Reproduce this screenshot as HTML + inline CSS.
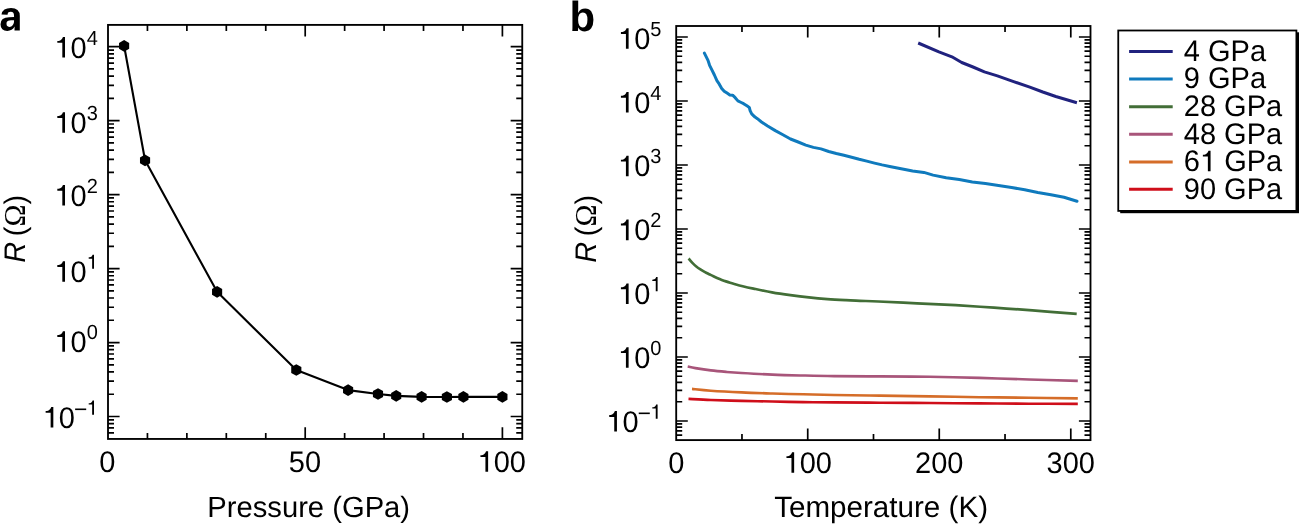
<!DOCTYPE html>
<html><head><meta charset="utf-8"><style>
html,body{margin:0;padding:0;background:#fff;width:1299px;height:524px;overflow:hidden}
svg{display:block}
.o,.m{fill:none}
text{font-family:"Liberation Sans",sans-serif;fill:#000;text-rendering:geometricPrecision}
svg{will-change:transform}
</style></head><body>
<svg width="1299" height="524" viewBox="0 0 1299 524">
<rect width="1299" height="524" fill="#fff"/>
<path d="M305.20 438.95V427.34999999999997M305.20 24.9V36.5M502.40 438.95V427.34999999999997M502.40 24.9V36.5M147.44 438.95V432.95M147.44 24.9V30.9M186.88 438.95V432.95M186.88 24.9V30.9M226.32 438.95V432.95M226.32 24.9V30.9M265.76 438.95V432.95M265.76 24.9V30.9M344.64 438.95V432.95M344.64 24.9V30.9M384.08 438.95V432.95M384.08 24.9V30.9M423.52 438.95V432.95M423.52 24.9V30.9M462.96 438.95V432.95M462.96 24.9V30.9M108.0 432.91H114.0M522.25 432.91H516.25M108.0 427.96H114.0M522.25 427.96H516.25M108.0 423.67H114.0M522.25 423.67H516.25M108.0 419.88H114.0M522.25 419.88H516.25M108.0 416.50H119.6M522.25 416.50H510.65M108.0 394.23H114.0M522.25 394.23H516.25M108.0 381.21H114.0M522.25 381.21H516.25M108.0 371.97H114.0M522.25 371.97H516.25M108.0 364.80H114.0M522.25 364.80H516.25M108.0 358.94H114.0M522.25 358.94H516.25M108.0 353.99H114.0M522.25 353.99H516.25M108.0 349.70H114.0M522.25 349.70H516.25M108.0 345.91H114.0M522.25 345.91H516.25M108.0 342.53H119.6M522.25 342.53H510.65M108.0 320.26H114.0M522.25 320.26H516.25M108.0 307.24H114.0M522.25 307.24H516.25M108.0 298.00H114.0M522.25 298.00H516.25M108.0 290.83H114.0M522.25 290.83H516.25M108.0 284.97H114.0M522.25 284.97H516.25M108.0 280.02H114.0M522.25 280.02H516.25M108.0 275.73H114.0M522.25 275.73H516.25M108.0 271.94H114.0M522.25 271.94H516.25M108.0 268.56H119.6M522.25 268.56H510.65M108.0 246.29H114.0M522.25 246.29H516.25M108.0 233.27H114.0M522.25 233.27H516.25M108.0 224.03H114.0M522.25 224.03H516.25M108.0 216.86H114.0M522.25 216.86H516.25M108.0 211.00H114.0M522.25 211.00H516.25M108.0 206.05H114.0M522.25 206.05H516.25M108.0 201.76H114.0M522.25 201.76H516.25M108.0 197.97H114.0M522.25 197.97H516.25M108.0 194.59H119.6M522.25 194.59H510.65M108.0 172.32H114.0M522.25 172.32H516.25M108.0 159.30H114.0M522.25 159.30H516.25M108.0 150.06H114.0M522.25 150.06H516.25M108.0 142.89H114.0M522.25 142.89H516.25M108.0 137.03H114.0M522.25 137.03H516.25M108.0 132.08H114.0M522.25 132.08H516.25M108.0 127.79H114.0M522.25 127.79H516.25M108.0 124.00H114.0M522.25 124.00H516.25M108.0 120.62H119.6M522.25 120.62H510.65M108.0 98.35H114.0M522.25 98.35H516.25M108.0 85.33H114.0M522.25 85.33H516.25M108.0 76.09H114.0M522.25 76.09H516.25M108.0 68.92H114.0M522.25 68.92H516.25M108.0 63.06H114.0M522.25 63.06H516.25M108.0 58.11H114.0M522.25 58.11H516.25M108.0 53.82H114.0M522.25 53.82H516.25M108.0 50.03H114.0M522.25 50.03H516.25M108.0 46.65H119.6M522.25 46.65H510.65" stroke="#000" stroke-width="1.7" fill="none"/>
<rect x="108.0" y="24.9" width="414.25" height="414.05" fill="none" stroke="#000" stroke-width="1.85"/>
<path d="M807.73 440.1V428.5M807.73 26.0V37.6M939.26 440.1V428.5M939.26 26.0V37.6M1070.79 440.1V428.5M1070.79 26.0V37.6M741.97 440.1V434.1M741.97 26.0V32.0M873.50 440.1V434.1M873.50 26.0V32.0M1005.03 440.1V434.1M1005.03 26.0V32.0M676.2 435.20H682.2M1090.5 435.20H1084.5M676.2 430.91H682.2M1090.5 430.91H1084.5M676.2 427.20H682.2M1090.5 427.20H1084.5M676.2 423.93H682.2M1090.5 423.93H1084.5M676.2 421.00H687.8000000000001M1090.5 421.00H1078.9M676.2 401.73H682.2M1090.5 401.73H1084.5M676.2 390.46H682.2M1090.5 390.46H1084.5M676.2 382.47H682.2M1090.5 382.47H1084.5M676.2 376.27H682.2M1090.5 376.27H1084.5M676.2 371.20H682.2M1090.5 371.20H1084.5M676.2 366.91H682.2M1090.5 366.91H1084.5M676.2 363.20H682.2M1090.5 363.20H1084.5M676.2 359.93H682.2M1090.5 359.93H1084.5M676.2 357.00H687.8000000000001M1090.5 357.00H1078.9M676.2 337.73H682.2M1090.5 337.73H1084.5M676.2 326.46H682.2M1090.5 326.46H1084.5M676.2 318.47H682.2M1090.5 318.47H1084.5M676.2 312.27H682.2M1090.5 312.27H1084.5M676.2 307.20H682.2M1090.5 307.20H1084.5M676.2 302.91H682.2M1090.5 302.91H1084.5M676.2 299.20H682.2M1090.5 299.20H1084.5M676.2 295.93H682.2M1090.5 295.93H1084.5M676.2 293.00H687.8000000000001M1090.5 293.00H1078.9M676.2 273.73H682.2M1090.5 273.73H1084.5M676.2 262.46H682.2M1090.5 262.46H1084.5M676.2 254.47H682.2M1090.5 254.47H1084.5M676.2 248.27H682.2M1090.5 248.27H1084.5M676.2 243.20H682.2M1090.5 243.20H1084.5M676.2 238.91H682.2M1090.5 238.91H1084.5M676.2 235.20H682.2M1090.5 235.20H1084.5M676.2 231.93H682.2M1090.5 231.93H1084.5M676.2 229.00H687.8000000000001M1090.5 229.00H1078.9M676.2 209.73H682.2M1090.5 209.73H1084.5M676.2 198.46H682.2M1090.5 198.46H1084.5M676.2 190.47H682.2M1090.5 190.47H1084.5M676.2 184.27H682.2M1090.5 184.27H1084.5M676.2 179.20H682.2M1090.5 179.20H1084.5M676.2 174.91H682.2M1090.5 174.91H1084.5M676.2 171.20H682.2M1090.5 171.20H1084.5M676.2 167.93H682.2M1090.5 167.93H1084.5M676.2 165.00H687.8000000000001M1090.5 165.00H1078.9M676.2 145.73H682.2M1090.5 145.73H1084.5M676.2 134.46H682.2M1090.5 134.46H1084.5M676.2 126.47H682.2M1090.5 126.47H1084.5M676.2 120.27H682.2M1090.5 120.27H1084.5M676.2 115.20H682.2M1090.5 115.20H1084.5M676.2 110.91H682.2M1090.5 110.91H1084.5M676.2 107.20H682.2M1090.5 107.20H1084.5M676.2 103.93H682.2M1090.5 103.93H1084.5M676.2 101.00H687.8000000000001M1090.5 101.00H1078.9M676.2 81.73H682.2M1090.5 81.73H1084.5M676.2 70.46H682.2M1090.5 70.46H1084.5M676.2 62.47H682.2M1090.5 62.47H1084.5M676.2 56.27H682.2M1090.5 56.27H1084.5M676.2 51.20H682.2M1090.5 51.20H1084.5M676.2 46.91H682.2M1090.5 46.91H1084.5M676.2 43.20H682.2M1090.5 43.20H1084.5M676.2 39.93H682.2M1090.5 39.93H1084.5M676.2 37.00H687.8000000000001M1090.5 37.00H1078.9" stroke="#000" stroke-width="1.7" fill="none"/>
<rect x="676.2" y="26.0" width="414.30" height="414.10" fill="none" stroke="#000" stroke-width="1.85"/>
<polyline points="124.1,45.8 145.05,160.3 217.1,291.85 296.3,370.0 348.1,390.1 378.0,394.0 396.2,395.9 421.6,396.9 446.9,397.0 463.4,396.85 502.4,396.9" fill="none" stroke="#000" stroke-width="2.1" stroke-linejoin="round"/>
<polygon points="124.10,39.95 129.17,42.88 129.17,48.72 124.10,51.65 119.03,48.72 119.03,42.88" fill="#000"/>
<polygon points="145.05,154.45 150.12,157.38 150.12,163.23 145.05,166.15 139.98,163.23 139.98,157.38" fill="#000"/>
<polygon points="217.10,286.00 222.17,288.93 222.17,294.78 217.10,297.70 212.03,294.78 212.03,288.93" fill="#000"/>
<polygon points="296.30,364.15 301.37,367.07 301.37,372.93 296.30,375.85 291.23,372.93 291.23,367.07" fill="#000"/>
<polygon points="348.10,384.25 353.17,387.18 353.17,393.03 348.10,395.95 343.03,393.03 343.03,387.18" fill="#000"/>
<polygon points="378.00,388.15 383.07,391.07 383.07,396.93 378.00,399.85 372.93,396.93 372.93,391.07" fill="#000"/>
<polygon points="396.20,390.05 401.27,392.97 401.27,398.82 396.20,401.75 391.13,398.82 391.13,392.97" fill="#000"/>
<polygon points="421.60,391.05 426.67,393.97 426.67,399.82 421.60,402.75 416.53,399.82 416.53,393.97" fill="#000"/>
<polygon points="446.90,391.15 451.97,394.07 451.97,399.93 446.90,402.85 441.83,399.93 441.83,394.07" fill="#000"/>
<polygon points="463.40,391.00 468.47,393.93 468.47,399.78 463.40,402.70 458.33,399.78 458.33,393.93" fill="#000"/>
<polygon points="502.40,391.05 507.47,393.97 507.47,399.82 502.40,402.75 497.33,399.82 497.33,393.97" fill="#000"/>
<polyline points="918.2,43.0 938.9,51.9 951.9,56.8 961.7,62.5 973,67 984.4,71.9 997.4,75.9 1013.6,81.6 1029.8,87.1 1042.8,92 1055.8,96.5 1076.9,102.7" fill="none" stroke="#20227e" stroke-width="3.0" stroke-linejoin="round"/>
<polyline points="704.4,53.1 706,56.3 708,60.4 709.6,65.3 712,70.1 714.4,75 716.9,80.7 719.3,84.2 721.7,88.4 724.2,91.2 727.4,93.3 729.8,94.9 732.6,95.2 735.2,97.7 737.9,100.9 741.2,102.5 743.6,103.7 746.9,105.8 749.3,107.4 750.1,110.6 751.7,113.9 755,117.1 757.4,118.7 761.5,122 767.6,126 775.3,130.6 782.9,134.7 790.5,139 798.2,142 805.8,145.1 813.4,147.4 821,148.9 828.7,151.5 836.3,153.5 843.9,155.3 851.6,157.3 859.2,159.3 866.8,161.1 874.5,163.1 882.1,164.9 889.7,166.5 897.3,168 905,169.5 912.6,171 923.9,172.4 933.1,175.1 946.2,177.7 959.3,179.6 972.3,182 985.4,183.6 998.5,185.5 1011.6,187.5 1024.7,189.8 1037.8,192.5 1050.9,194.7 1064,197.3 1077,201.2" fill="none" stroke="#0f7abd" stroke-width="3.0" stroke-linejoin="round" stroke-linecap="round"/>
<path d="M688.60 258.50C689.23 259.23 691.07 261.53 692.40 262.90C693.73 264.27 695.20 265.58 696.60 266.70C698.00 267.82 699.40 268.70 700.80 269.60C702.20 270.50 703.60 271.33 705.00 272.10C706.40 272.87 707.80 273.50 709.20 274.20C710.60 274.90 712.00 275.63 713.40 276.30C714.80 276.97 716.20 277.60 717.60 278.20C719.00 278.80 720.42 279.37 721.80 279.90C723.18 280.43 724.52 280.92 725.90 281.40C727.28 281.88 728.70 282.37 730.10 282.80C731.50 283.23 732.20 283.43 734.30 284.00C736.40 284.57 739.50 285.43 742.70 286.20C745.90 286.97 748.62 287.58 753.50 288.60C758.38 289.62 765.85 291.22 772.00 292.30C778.15 293.38 784.25 294.25 790.40 295.10C796.55 295.95 802.73 296.73 808.90 297.40C815.07 298.07 821.23 298.63 827.40 299.10C833.57 299.57 840.47 299.92 845.90 300.20C851.33 300.48 854.57 300.58 860.00 300.80C865.43 301.02 869.00 301.08 878.50 301.50C888.00 301.92 904.17 302.68 917.00 303.30C929.83 303.92 942.67 304.47 955.50 305.20C968.33 305.93 981.17 306.83 994.00 307.70C1006.83 308.57 1018.72 309.37 1032.50 310.40C1046.28 311.43 1069.33 313.32 1076.70 313.90" fill="none" stroke="#426e37" stroke-width="2.7"/>
<path d="M687.70 366.50C688.98 366.77 691.55 367.45 695.40 368.10C699.25 368.75 705.67 369.77 710.80 370.40C715.93 371.03 721.07 371.47 726.20 371.90C731.33 372.33 733.90 372.55 741.60 373.00C749.30 373.45 762.13 374.18 772.40 374.60C782.67 375.02 792.93 375.25 803.20 375.50C813.47 375.75 821.20 375.95 834.00 376.10C846.80 376.25 864.05 376.28 880.00 376.40C895.95 376.52 913.15 376.55 929.70 376.80C946.25 377.05 962.75 377.45 979.30 377.90C995.85 378.35 1012.58 379.00 1029.00 379.50C1045.42 380.00 1069.67 380.67 1077.80 380.90" fill="none" stroke="#a8557a" stroke-width="2.6"/>
<path d="M692.00 388.90C695.13 389.20 702.53 390.12 710.80 390.70C719.07 391.28 731.33 391.93 741.60 392.40C751.87 392.87 762.13 393.18 772.40 393.50C782.67 393.82 792.93 394.05 803.20 394.30C813.47 394.55 821.20 394.78 834.00 395.00C846.80 395.22 864.05 395.37 880.00 395.60C895.95 395.83 913.15 396.13 929.70 396.40C946.25 396.67 962.75 396.98 979.30 397.20C995.85 397.42 1012.58 397.50 1029.00 397.70C1045.42 397.90 1069.67 398.28 1077.80 398.40" fill="none" stroke="#d56d29" stroke-width="2.6"/>
<path d="M688.50 398.90C692.22 399.08 701.95 399.67 710.80 400.00C719.65 400.33 731.33 400.65 741.60 400.90C751.87 401.15 762.13 401.30 772.40 401.50C782.67 401.70 792.93 401.95 803.20 402.10C813.47 402.25 821.20 402.30 834.00 402.40C846.80 402.50 864.05 402.60 880.00 402.70C895.95 402.80 913.15 402.88 929.70 403.00C946.25 403.12 962.75 403.28 979.30 403.40C995.85 403.52 1012.58 403.62 1029.00 403.70C1045.42 403.78 1069.67 403.87 1077.80 403.90" fill="none" stroke="#cf0e1a" stroke-width="2.6"/>
<rect x="1120.2" y="32.3" width="180" height="180.9" fill="#000"/>
<rect x="1118.25" y="30.5" width="178.15" height="180.4" fill="#fff" stroke="#000" stroke-width="1.8"/>
<line x1="1129.1" x2="1172.7" y1="51.4" y2="51.4" stroke="#20227e" stroke-width="3.0"/>
<text x="1183.8" y="60.70" transform="matrix(1 0 0 1.025 0 -1.517)" font-size="29">4 GPa</text>
<line x1="1129.1" x2="1172.7" y1="78.95" y2="78.95" stroke="#0f7abd" stroke-width="3.0"/>
<text x="1183.8" y="88.25" transform="matrix(1 0 0 1.025 0 -2.206)" font-size="29">9 GPa</text>
<line x1="1129.1" x2="1172.7" y1="106.75" y2="106.75" stroke="#426e37" stroke-width="3.0"/>
<text x="1183.8" y="116.05" transform="matrix(1 0 0 1.025 0 -2.901)" font-size="29">28 GPa</text>
<line x1="1129.1" x2="1172.7" y1="134.2" y2="134.2" stroke="#a8557a" stroke-width="3.0"/>
<text x="1183.8" y="143.50" transform="matrix(1 0 0 1.025 0 -3.587)" font-size="29">48 GPa</text>
<line x1="1129.1" x2="1172.7" y1="162.0" y2="162.0" stroke="#d56d29" stroke-width="3.0"/>
<text x="1183.8" y="171.30" transform="matrix(1 0 0 1.025 0 -4.282)" font-size="29">6<tspan class="o">1</tspan> GPa</text>
<line x1="1129.1" x2="1172.7" y1="189.3" y2="189.3" stroke="#cf0e1a" stroke-width="3.0"/>
<text x="1183.8" y="198.60" transform="matrix(1 0 0 1.025 0 -4.965)" font-size="29">90 GPa</text>
<text x="97.8" y="427.60" transform="matrix(1 0 0 1.025 0 -10.690)" text-anchor="end" font-size="29"><tspan class="o">1</tspan>0<tspan dy="-12.537" font-size="20"><tspan class="m">−</tspan><tspan class="o">1</tspan></tspan></text>
<text x="97.8" y="351.70" transform="matrix(1 0 0 1.025 0 -8.792)" text-anchor="end" font-size="29"><tspan class="o">1</tspan>0<tspan dy="-12.537" font-size="20">0</tspan></text>
<text x="97.8" y="281.70" transform="matrix(1 0 0 1.025 0 -7.042)" text-anchor="end" font-size="29"><tspan class="o">1</tspan>0<tspan dy="-12.537" font-size="20"><tspan class="o">1</tspan></tspan></text>
<text x="97.8" y="205.50" transform="matrix(1 0 0 1.025 0 -5.137)" text-anchor="end" font-size="29"><tspan class="o">1</tspan>0<tspan dy="-12.537" font-size="20">2</tspan></text>
<text x="97.8" y="132.70" transform="matrix(1 0 0 1.025 0 -3.317)" text-anchor="end" font-size="29"><tspan class="o">1</tspan>0<tspan dy="-12.537" font-size="20">3</tspan></text>
<text x="97.8" y="57.60" transform="matrix(1 0 0 1.025 0 -1.440)" text-anchor="end" font-size="29"><tspan class="o">1</tspan>0<tspan dy="-12.537" font-size="20">4</tspan></text>
<text x="661.4" y="431.62" transform="matrix(1 0 0 1.025 0 -10.790)" text-anchor="end" font-size="29"><tspan class="o">1</tspan>0<tspan dy="-12.537" font-size="20"><tspan class="m">−</tspan><tspan class="o">1</tspan></tspan></text>
<text x="661.4" y="367.80" transform="matrix(1 0 0 1.025 0 -9.195)" text-anchor="end" font-size="29"><tspan class="o">1</tspan>0<tspan dy="-12.537" font-size="20">0</tspan></text>
<text x="661.4" y="303.98" transform="matrix(1 0 0 1.025 0 -7.599)" text-anchor="end" font-size="29"><tspan class="o">1</tspan>0<tspan dy="-12.537" font-size="20"><tspan class="o">1</tspan></tspan></text>
<text x="661.4" y="240.16" transform="matrix(1 0 0 1.025 0 -6.004)" text-anchor="end" font-size="29"><tspan class="o">1</tspan>0<tspan dy="-12.537" font-size="20">2</tspan></text>
<text x="661.4" y="176.34" transform="matrix(1 0 0 1.025 0 -4.408)" text-anchor="end" font-size="29"><tspan class="o">1</tspan>0<tspan dy="-12.537" font-size="20">3</tspan></text>
<text x="661.4" y="112.52" transform="matrix(1 0 0 1.025 0 -2.813)" text-anchor="end" font-size="29"><tspan class="o">1</tspan>0<tspan dy="-12.537" font-size="20">4</tspan></text>
<text x="661.4" y="48.70" transform="matrix(1 0 0 1.025 0 -1.217)" text-anchor="end" font-size="29"><tspan class="o">1</tspan>0<tspan dy="-12.537" font-size="20">5</tspan></text>
<text x="107.30" y="471.8" transform="matrix(1 0 0 1.025 0 -11.795)" text-anchor="middle" font-size="29">0</text>
<text x="304.90" y="471.8" transform="matrix(1 0 0 1.025 0 -11.795)" text-anchor="middle" font-size="29">50</text>
<text x="501.70" y="471.8" transform="matrix(1 0 0 1.025 0 -11.795)" text-anchor="middle" font-size="29"><tspan class="o">1</tspan>00</text>
<text x="676.20" y="472.8" transform="matrix(1 0 0 1.025 0 -11.820)" text-anchor="middle" font-size="29">0</text>
<text x="807.73" y="472.8" transform="matrix(1 0 0 1.025 0 -11.820)" text-anchor="middle" font-size="29"><tspan class="o">1</tspan>00</text>
<text x="939.26" y="472.8" transform="matrix(1 0 0 1.025 0 -11.820)" text-anchor="middle" font-size="29">200</text>
<text x="1070.79" y="472.8" transform="matrix(1 0 0 1.025 0 -11.820)" text-anchor="middle" font-size="29">300</text>
<text x="308.7" y="517.1" transform="matrix(1 0 0 1.0 0 0.000)" text-anchor="middle" font-size="29.2">Pressure (GPa)</text>
<text x="881.1" y="517.4" transform="matrix(1 0 0 1.0 0 0.000)" text-anchor="middle" font-size="29.6">Temperature (K)</text>
<text transform="translate(24.6,262.7) rotate(-90) scale(1 1.025)" font-size="29" font-style="italic">R</text>
<text transform="translate(24.6,236.2) rotate(-90) scale(1 1.025)" font-size="29">(<tspan font-family="Liberation Serif" font-size="29.6">Ω</tspan>)</text>
<text transform="translate(596.2,262.7) rotate(-90) scale(1 1.025)" font-size="29" font-style="italic">R</text>
<text transform="translate(596.2,236.2) rotate(-90) scale(1 1.025)" font-size="29">(<tspan font-family="Liberation Serif" font-size="29.6">Ω</tspan>)</text>
<text x="-0.73" y="30.5" font-size="42" font-weight="bold" fill="none" style="fill:none">a</text>
<path transform="translate(-0.73 30.5) scale(0.020508 -0.020508)" d="M393 -20Q236 -20 148.0 65.5Q60 151 60 306Q60 474 169.5 562.0Q279 650 487 652L720 656V711Q720 817 683.0 868.5Q646 920 562 920Q484 920 447.5 884.5Q411 849 402 767L109 781Q136 939 253.5 1020.5Q371 1102 574 1102Q779 1102 890.0 1001.0Q1001 900 1001 714V0H742L749 193Q631 -20 393 -20ZM720 501 576 499Q478 495 437.0 477.5Q396 460 374.5 424.0Q353 388 353 328Q353 251 388.5 213.5Q424 176 483 176Q549 176 603.5 212.0Q658 248 689.0 311.5Q720 375 720 446Z"/>
<text x="569.6" y="30.6" font-size="42" font-weight="bold">b</text>
<path transform="translate(1199.94 171.30) scale(0.014160 -0.014160)" d="M560 0H750V1452H604C571 1343 506 1250 410 1211C338 1183 285 1176 207 1176V1040H560Z"/>
<path transform="translate(42.71 427.60) scale(0.014160 -0.014160)" d="M560 0H750V1452H604C571 1343 506 1250 410 1211C338 1183 285 1176 207 1176V1040H560Z"/>
<rect x="75.14" y="408.50" width="11.05" height="1.6"/>
<path transform="translate(86.68 414.75) scale(0.009766 -0.009766)" d="M560 0H750V1452H604C571 1343 506 1250 410 1211C338 1183 285 1176 207 1176V1040H560Z"/>
<path transform="translate(54.39 351.70) scale(0.014160 -0.014160)" d="M560 0H750V1452H604C571 1343 506 1250 410 1211C338 1183 285 1176 207 1176V1040H560Z"/>
<path transform="translate(54.39 281.70) scale(0.014160 -0.014160)" d="M560 0H750V1452H604C571 1343 506 1250 410 1211C338 1183 285 1176 207 1176V1040H560Z"/>
<path transform="translate(86.68 268.85) scale(0.009766 -0.009766)" d="M560 0H750V1452H604C571 1343 506 1250 410 1211C338 1183 285 1176 207 1176V1040H560Z"/>
<path transform="translate(54.39 205.50) scale(0.014160 -0.014160)" d="M560 0H750V1452H604C571 1343 506 1250 410 1211C338 1183 285 1176 207 1176V1040H560Z"/>
<path transform="translate(54.39 132.70) scale(0.014160 -0.014160)" d="M560 0H750V1452H604C571 1343 506 1250 410 1211C338 1183 285 1176 207 1176V1040H560Z"/>
<path transform="translate(54.39 57.60) scale(0.014160 -0.014160)" d="M560 0H750V1452H604C571 1343 506 1250 410 1211C338 1183 285 1176 207 1176V1040H560Z"/>
<path transform="translate(606.31 431.62) scale(0.014160 -0.014160)" d="M560 0H750V1452H604C571 1343 506 1250 410 1211C338 1183 285 1176 207 1176V1040H560Z"/>
<rect x="638.74" y="412.52" width="11.05" height="1.6"/>
<path transform="translate(650.28 418.77) scale(0.009766 -0.009766)" d="M560 0H750V1452H604C571 1343 506 1250 410 1211C338 1183 285 1176 207 1176V1040H560Z"/>
<path transform="translate(617.99 367.80) scale(0.014160 -0.014160)" d="M560 0H750V1452H604C571 1343 506 1250 410 1211C338 1183 285 1176 207 1176V1040H560Z"/>
<path transform="translate(617.99 303.98) scale(0.014160 -0.014160)" d="M560 0H750V1452H604C571 1343 506 1250 410 1211C338 1183 285 1176 207 1176V1040H560Z"/>
<path transform="translate(650.28 291.13) scale(0.009766 -0.009766)" d="M560 0H750V1452H604C571 1343 506 1250 410 1211C338 1183 285 1176 207 1176V1040H560Z"/>
<path transform="translate(617.99 240.16) scale(0.014160 -0.014160)" d="M560 0H750V1452H604C571 1343 506 1250 410 1211C338 1183 285 1176 207 1176V1040H560Z"/>
<path transform="translate(617.99 176.34) scale(0.014160 -0.014160)" d="M560 0H750V1452H604C571 1343 506 1250 410 1211C338 1183 285 1176 207 1176V1040H560Z"/>
<path transform="translate(617.99 112.52) scale(0.014160 -0.014160)" d="M560 0H750V1452H604C571 1343 506 1250 410 1211C338 1183 285 1176 207 1176V1040H560Z"/>
<path transform="translate(617.99 48.70) scale(0.014160 -0.014160)" d="M560 0H750V1452H604C571 1343 506 1250 410 1211C338 1183 285 1176 207 1176V1040H560Z"/>
<path transform="translate(477.50 471.80) scale(0.014160 -0.014160)" d="M560 0H750V1452H604C571 1343 506 1250 410 1211C338 1183 285 1176 207 1176V1040H560Z"/>
<path transform="translate(783.53 472.80) scale(0.014160 -0.014160)" d="M560 0H750V1452H604C571 1343 506 1250 410 1211C338 1183 285 1176 207 1176V1040H560Z"/>
</svg>
</body></html>
